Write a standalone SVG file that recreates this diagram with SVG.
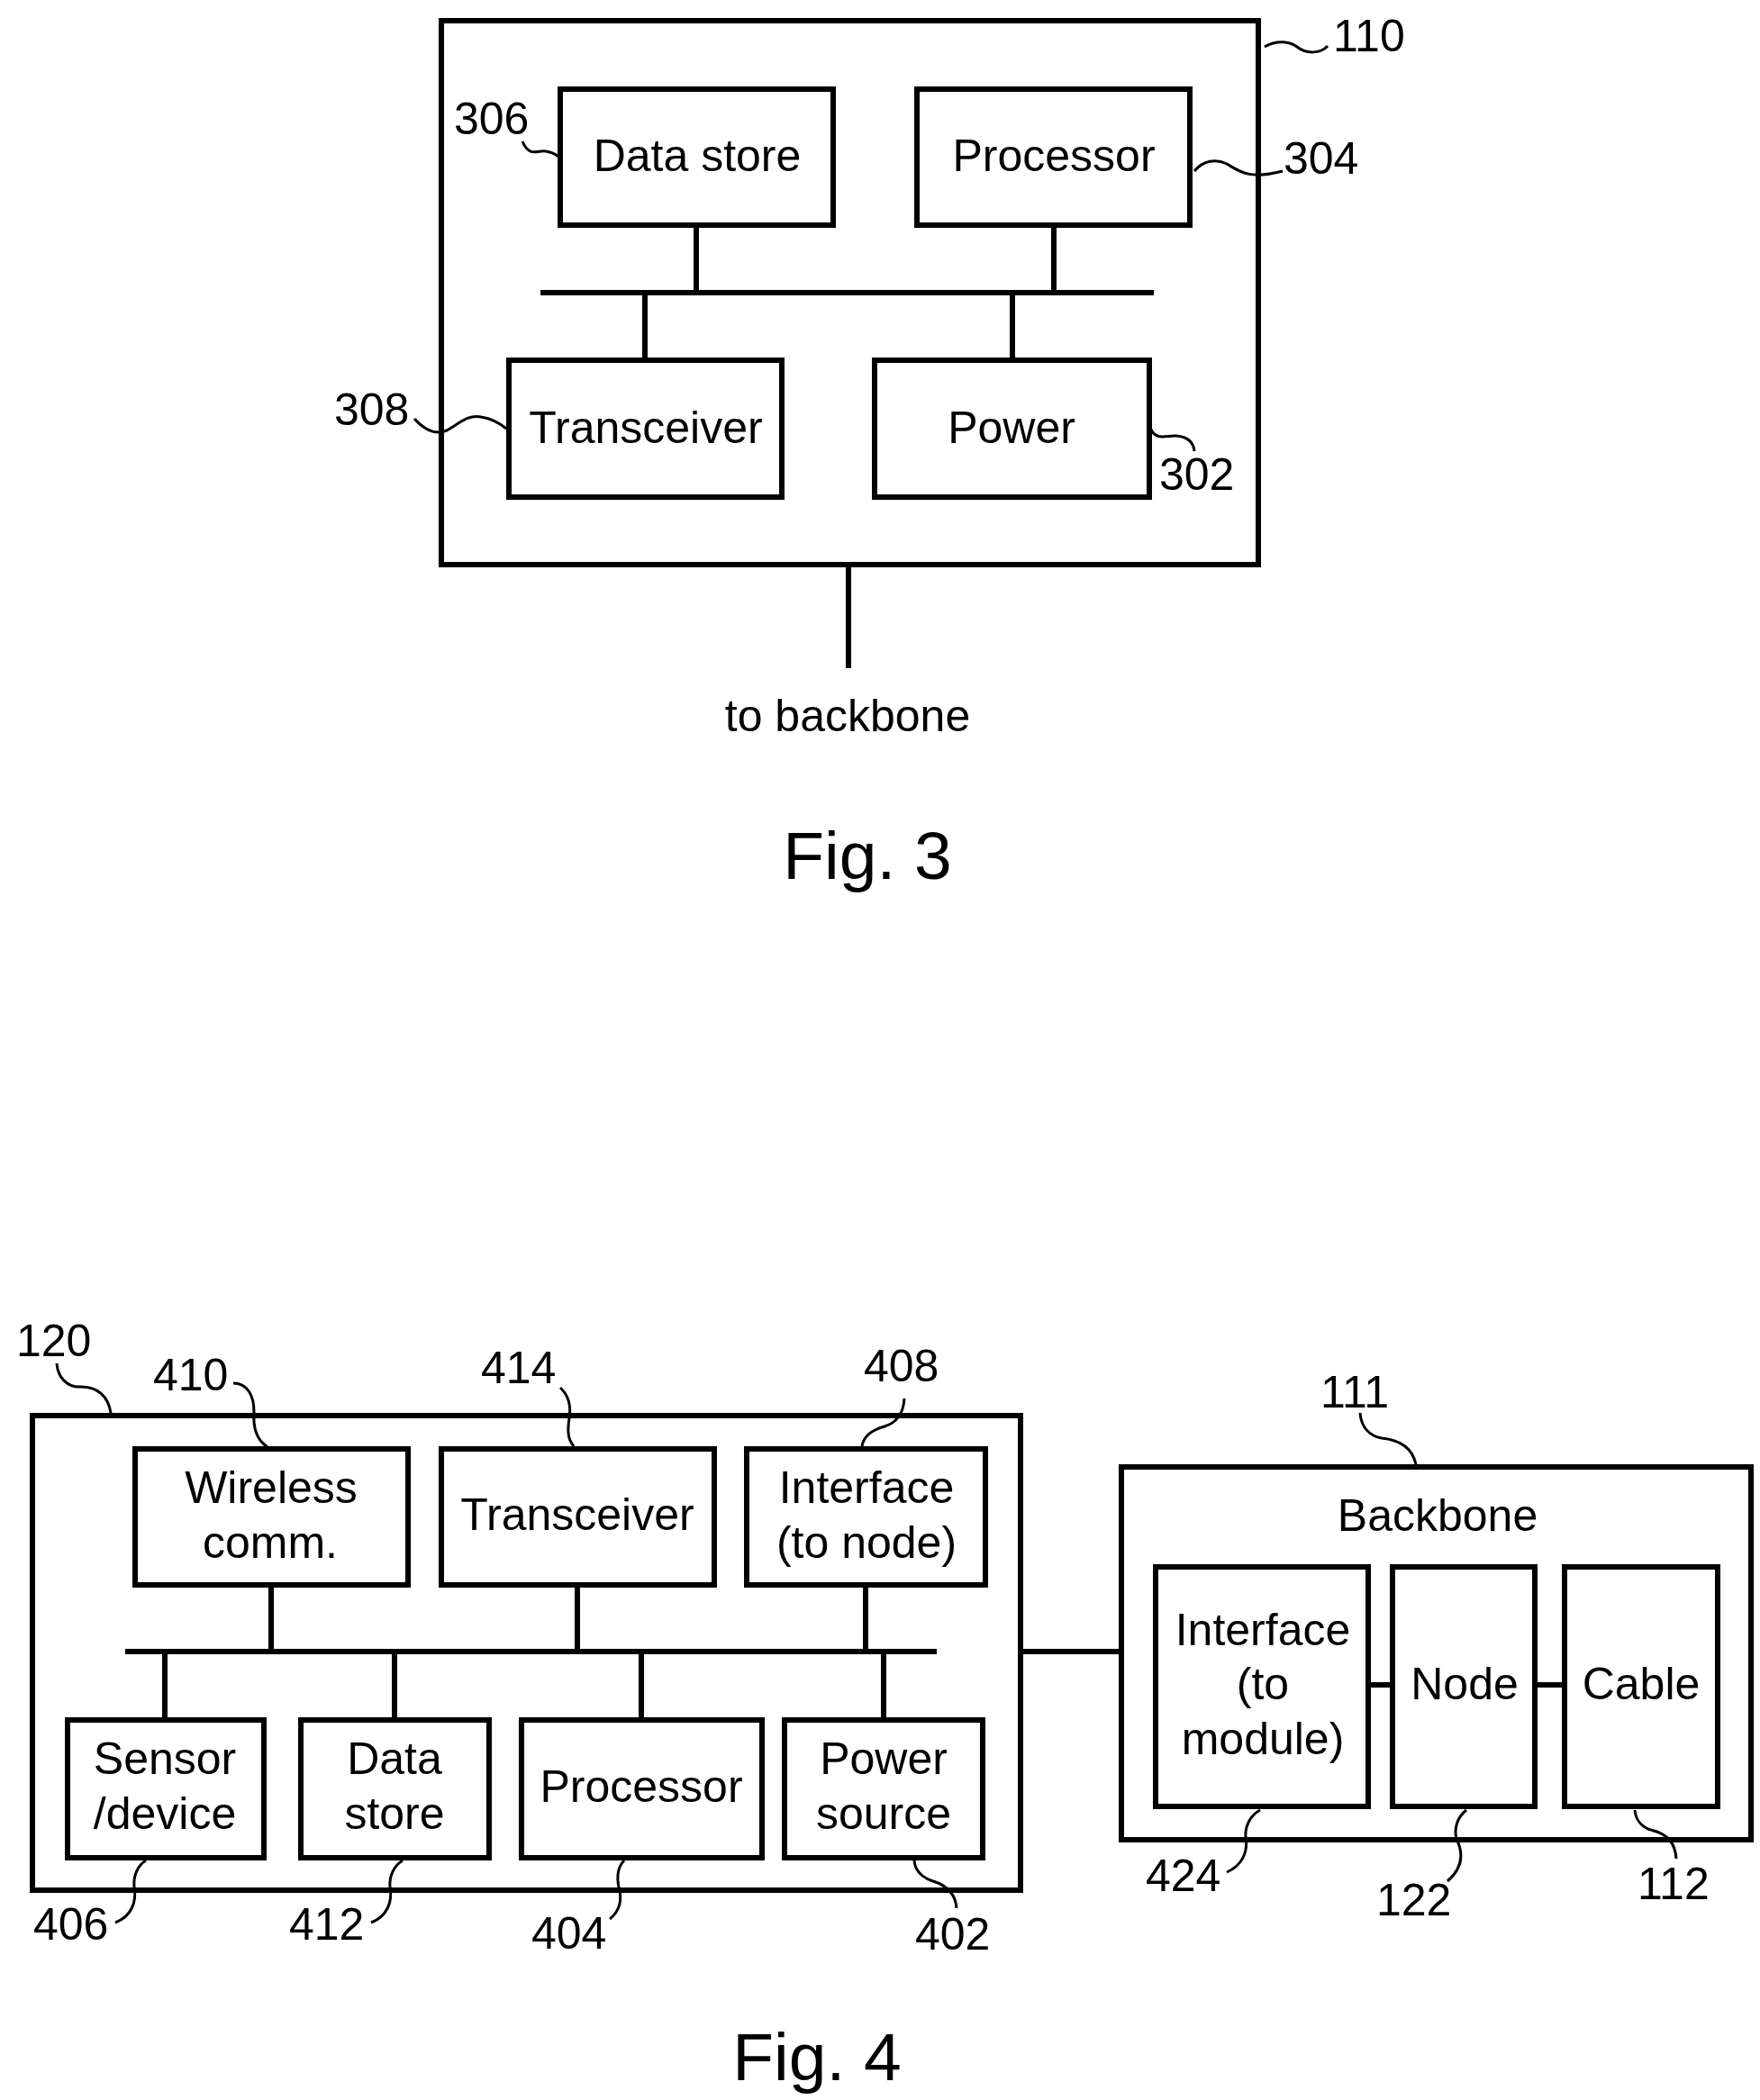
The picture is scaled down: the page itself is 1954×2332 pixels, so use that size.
<svg xmlns="http://www.w3.org/2000/svg" width="1954" height="2332" viewBox="0 0 1954 2332">
<style>
rect.b{fill:none;stroke:#000;stroke-width:6}
text{font-family:"Liberation Sans",Arial,sans-serif;font-size:50px;fill:#000}
text.c{text-anchor:middle}
text.f{font-size:75px;text-anchor:middle}
.w path{fill:none;stroke:#000;stroke-width:6}
.l path{fill:none;stroke:#000;stroke-width:3}
</style>
<rect width="1954" height="2332" fill="#fff"/>
<g id="connectors">
<g class="w">
<path d="M600 325H1281M773 250V325M1170 250V325M716 325V400M1124 325V400M942 627V742"/>
<path d="M139 1834H1040M301 1760V1834M641 1760V1834M961 1760V1834M183 1834V1910M438 1834V1910M712 1834V1910M981 1834V1910M1133 1834H1245M1519 1871H1546M1704 1871H1737"/>
</g>
<g class="l">
<path d="M1404 52C1418 44 1432 46 1440 52C1450 60 1466 60 1474 51"/>
<path d="M580 157C588 176 598 166 606 168C612 169 616 170 620 174"/>
<path d="M1326 190C1336 178 1350 176 1362 182C1376 190 1386 200 1424 190"/>
<path d="M460 465C470 476 482 484 496 478C510 470 520 460 534 463C546 465 555 470 562 476"/>
<path d="M1278 477C1284 490 1296 483 1306 484C1318 485 1325 490 1326 501"/>
<path d="M63 1514C64 1530 75 1541 90 1540C108 1540 120 1550 123 1569"/>
<path d="M259 1536C275 1536 282 1550 282 1568C281 1585 284 1598 297 1607"/>
<path d="M622 1541C632 1550 634 1562 632 1575C630 1588 630 1598 637 1606"/>
<path d="M1004 1553C1003 1570 995 1580 982 1584C968 1588 959 1594 957 1606"/>
<path d="M162 2066C152 2072 148 2084 149 2095C152 2112 146 2128 128 2135"/>
<path d="M447 2066C437 2072 432 2084 433 2095C436 2112 430 2128 412 2135"/>
<path d="M693 2066C685 2074 685 2086 687 2096C691 2110 688 2122 677 2131"/>
<path d="M1015 2066C1016 2078 1024 2085 1036 2089C1052 2094 1061 2104 1062 2119"/>
<path d="M1510 1569C1511 1584 1520 1595 1534 1597C1554 1599 1568 1608 1572 1626"/>
<path d="M1399 2010C1388 2016 1382 2028 1383 2040C1386 2058 1378 2072 1362 2079"/>
<path d="M1628 2010C1618 2018 1614 2030 1617 2042C1626 2060 1622 2076 1607 2089"/>
<path d="M1815 2010C1816 2022 1824 2030 1836 2033C1852 2037 1860 2048 1861 2064"/>
</g>
</g>
<g id="n110"><rect class="b" x="490" y="23" width="907" height="604"/><text x="1480" y="57">110</text></g>
<g id="n306"><rect class="b" x="622" y="99" width="303" height="151"/><text class="c" x="774" y="190">Data store</text><text x="504" y="149">306</text></g>
<g id="n304"><rect class="b" x="1018" y="99" width="303" height="151"/><text class="c" x="1170" y="190">Processor</text><text x="1425" y="193">304</text></g>
<g id="n308"><rect class="b" x="565" y="400" width="303" height="152"/><text class="c" x="717" y="492">Transceiver</text><text x="371" y="472">308</text></g>
<g id="n302"><rect class="b" x="971" y="400" width="305" height="152"/><text class="c" x="1123" y="492">Power</text><text x="1287" y="544">302</text></g>
<g id="backbone-note"><text class="c" x="941" y="812">to backbone</text></g>
<g id="fig3"><text class="f" x="963" y="976">Fig. 3</text></g>

<g id="n120"><rect class="b" x="36" y="1572" width="1097" height="527"/><text x="18" y="1506">120</text></g>
<g id="n410"><rect class="b" x="150" y="1609" width="303" height="151"/><text class="c" x="301" y="1669">Wireless</text><text class="c" x="300" y="1730">comm.</text><text x="170" y="1544">410</text></g>
<g id="n414"><rect class="b" x="490" y="1609" width="303" height="151"/><text class="c" x="641" y="1699">Transceiver</text><text x="534" y="1536">414</text></g>
<g id="n408"><rect class="b" x="829" y="1609" width="265" height="151"/><text class="c" x="962" y="1669">Interface</text><text class="c" x="962" y="1730">(to node)</text><text x="959" y="1534">408</text></g>
<g id="n406"><rect class="b" x="75" y="1910" width="218" height="153"/><text class="c" x="183" y="1970">Sensor</text><text class="c" x="183" y="2031">/device</text><text x="37" y="2154">406</text></g>
<g id="n412"><rect class="b" x="334" y="1910" width="209" height="153"/><text class="c" x="438" y="1970">Data</text><text class="c" x="438" y="2031">store</text><text x="321" y="2154">412</text></g>
<g id="n404"><rect class="b" x="579" y="1910" width="267" height="153"/><text class="c" x="712" y="2001">Processor</text><text x="590" y="2164">404</text></g>
<g id="n402"><rect class="b" x="871" y="1910" width="220" height="153"/><text class="c" x="981" y="1970">Power</text><text class="c" x="981" y="2031">source</text><text x="1016" y="2165">402</text></g>

<g id="n111"><rect class="b" x="1245" y="1629" width="699" height="414"/><text class="c" x="1596" y="1700">Backbone</text><text x="1466" y="1563">111</text></g>
<g id="n424"><rect class="b" x="1283" y="1740" width="236" height="266"/><text class="c" x="1402" y="1827">Interface</text><text class="c" x="1402" y="1887">(to</text><text class="c" x="1402" y="1948">module)</text><text x="1272" y="2100">424</text></g>
<g id="n122"><rect class="b" x="1546" y="1740" width="158" height="266"/><text class="c" x="1626" y="1887">Node</text><text x="1528" y="2127">122</text></g>
<g id="n112"><rect class="b" x="1737" y="1740" width="170" height="266"/><text class="c" x="1822" y="1887">Cable</text><text x="1818" y="2109">112</text></g>
<g id="fig4"><text class="f" x="907" y="2310">Fig. 4</text></g>
</svg>
